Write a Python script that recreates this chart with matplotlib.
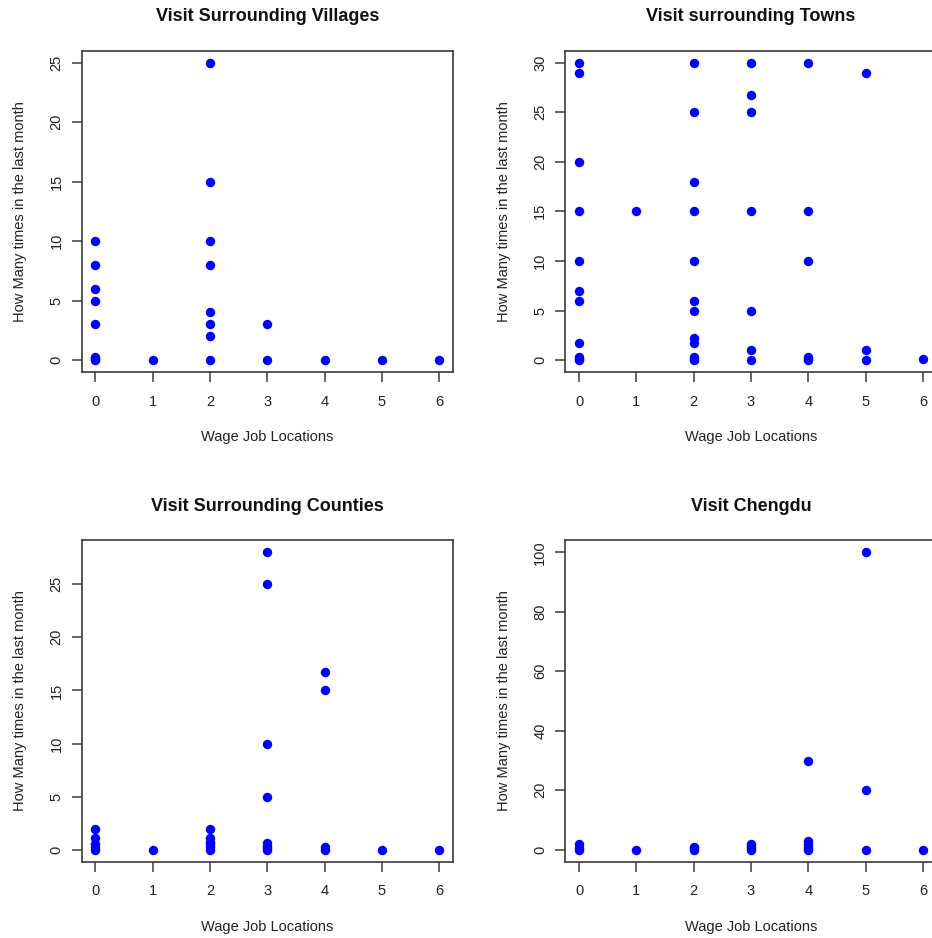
#!/usr/bin/env python3
"""
Scatter plots of visit frequency vs number of wage job locations (2x2 grid, R base style).
"""

import matplotlib
matplotlib.use("Agg")
import matplotlib.pyplot as plt

plt.rcParams['font.family'] = ['Liberation Sans', 'DejaVu Sans']

# Data
villages_x = [0, 0, 0, 0, 0, 0, 0, 0, 0, 1, 2, 2, 2, 2, 2, 2, 2, 2, 3, 3, 4, 5, 6]
villages_y = [10, 8, 6, 5, 3, 0.3, 0.2, 0.1, 0, 0, 25, 15, 10, 8, 4, 3, 2, 0, 3, 0, 0, 0, 0]

towns_x = [0, 0, 0, 0, 0, 0, 0, 0, 0, 0, 0,
           1,
           2, 2, 2, 2, 2, 2, 2, 2, 2, 2, 2, 2,
           3, 3, 3, 3, 3, 3, 3,
           4, 4, 4, 4, 4, 4,
           5, 5, 5,
           6]
towns_y = [30, 29, 20, 15, 10, 7, 6, 1.7, 0.3, 0.15, 0,
           15,
           30, 25, 18, 15, 10, 6, 5, 2.2, 1.7, 0.3, 0.1, 0,
           30, 26.7, 25, 15, 5, 1, 0,
           30, 15, 10, 0.3, 0.15, 0,
           29, 1, 0,
           0.1]

counties_x = [0, 0, 0, 0, 0,
              1,
              2, 2, 2, 2, 2, 2,
              3, 3, 3, 3, 3, 3, 3, 3,
              4, 4, 4, 4,
              5, 6]
counties_y = [2, 1.1, 0.5, 0.25, 0,
              0,
              2, 1.1, 0.75, 0.5, 0.25, 0,
              28, 25, 10, 5, 0.6, 0.4, 0.2, 0,
              16.7, 15, 0.25, 0,
              0, 0]

chengdu_x = [0, 0, 0, 1, 2, 2, 2, 3, 3, 3, 3, 3, 4, 4, 4, 4, 4, 4, 5, 5, 5, 6]
chengdu_y = [2, 0.5, 0, 0, 1, 0.5, 0, 2, 1.5, 1, 0.5, 0, 30, 3, 2, 1, 0.5, 0, 100, 20, 0, 0]

titles = ["Visit Surrounding Villages", "Visit surrounding Towns",
          "Visit Surrounding Counties", "Visit Chengdu"]
y_ticks = [[0, 5, 10, 15, 20, 25],
           [0, 5, 10, 15, 20, 25, 30],
           [0, 5, 10, 15, 20, 25],
           [0, 20, 40, 60, 80, 100]]
x_ticks = [0, 1, 2, 3, 4, 5, 6]
x_label = "Wage Job Locations"
y_label = "How Many times in the last month"


def main() -> None:
    W, H = 932, 938
    fig = plt.figure(figsize=(W / 100, H / 100), dpi=100)

    # box positions in pixels: (left, top); right column runs past the figure edge
    box_w, box_h = 371.3, 321.3
    boxes = [(81.7, 50.7), (565.3, 50.7), (81.7, 540.4), (565.3, 540.4)]
    series = [(villages_x, villages_y), (towns_x, towns_y),
              (counties_x, counties_y), (chengdu_x, chengdu_y)]

    edge = "#3a3a3a"
    for (left, top), (xs, ys), title, yt in zip(boxes, series, titles, y_ticks):
        ax = fig.add_axes([left / W, 1 - (top + box_h) / H, box_w / W, box_h / H])
        ax.plot(xs, ys, linestyle='none', marker='o', markersize=6.8,
                color='#0000ff', markeredgewidth=0)

        # R-style 4% padding on both axes
        xmin, xmax = min(xs), max(xs)
        ymin, ymax = min(ys), max(ys)
        dx, dy = 0.04 * (xmax - xmin), 0.04 * (ymax - ymin)
        ax.set_xlim(xmin - dx, xmax + dx)
        ax.set_ylim(ymin - dy, ymax + dy)

        ax.set_xticks(x_ticks)
        ax.set_yticks(yt)
        ax.set_yticklabels([str(v) for v in yt], rotation=90, va='center')
        ax.tick_params(axis='both', length=7.2, width=1.1, color=edge,
                       labelsize=10.5, labelcolor='#222222')
        ax.tick_params(axis='x', pad=9)
        ax.tick_params(axis='y', pad=5.8)

        for sp in ax.spines.values():
            sp.set_color(edge)
            sp.set_linewidth(1.2)

        ax.set_title(title, fontsize=13, weight='bold', pad=21.5, color='#111111')
        ax.text(0.5, -65 / box_h, x_label, transform=ax.transAxes,
                ha='center', va='center', fontsize=10.5, color='#222222')
        ax.text(-61.5 / box_w, 0.5, y_label, transform=ax.transAxes,
                ha='center', va='center', rotation=90, fontsize=10.5, color='#222222')

    fig.savefig("out.png", dpi=100)


if __name__ == "__main__":
    main()
